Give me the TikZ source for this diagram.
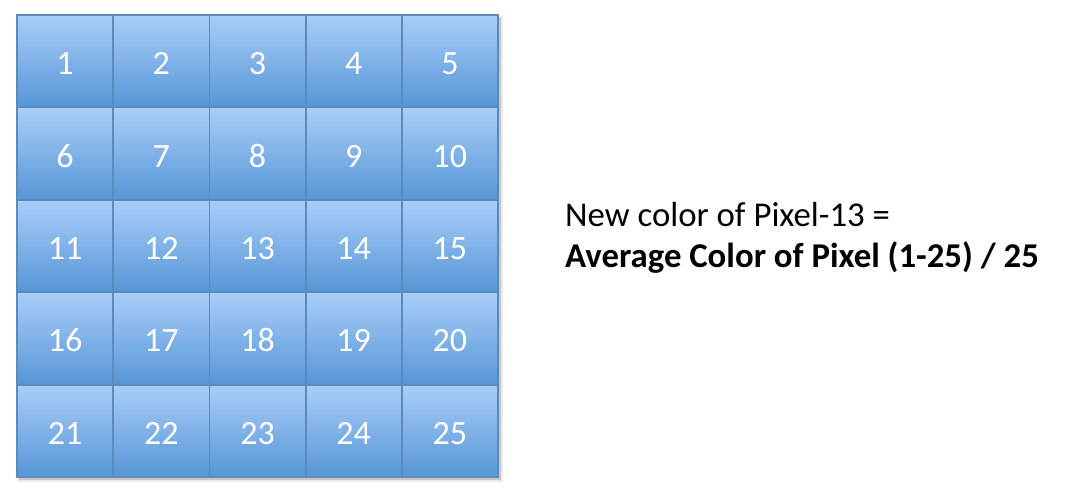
\documentclass[tikz,border=0pt]{standalone}
\usepackage{fontspec}
\setmainfont{Carlito}
\definecolor{celltop}{RGB}{170,205,249}
\definecolor{cellbot}{RGB}{86,150,215}
\definecolor{cellline}{RGB}{92,138,186}
\tikzset{
  cell/.style={draw=cellline, line width=1.8pt, top color=celltop, bottom color=cellbot,
    minimum width=96.2pt, minimum height=92.4pt, inner sep=0pt, outer sep=0pt,
    text=white, font=\fontsize{34}{40}\selectfont, text height=27pt, text depth=0pt},
  caption/.style={anchor=base west, inner sep=0pt, font=\fontsize{34.8}{41}\selectfont}
}
\begin{document}
\begin{tikzpicture}[x=1pt,y=-1pt]
\useasboundingbox[fill=white] (0,0) rectangle (1076,494);
\fill[black, opacity=0.15] (19,18) rectangle (501,480);
\fill[black, opacity=0.08] (18,16) rectangle (503,482);
\foreach \r in {0,...,4}{
  \foreach \c in {0,...,4}{
    \pgfmathtruncatemacro{\n}{\r*5+\c+1}
    \node[cell] (c\n) at ({17+96.2*(\c+0.5)},{15+92.4*(\r+0.5)}) {\n};
  }
}
\node[caption] (l1) at (565,227) {New color of Pixel-13 =};
\node[caption, font=\fontsize{34.8}{41}\selectfont\bfseries] (l2) at (565,268) {Average Color of Pixel (1-25) / 25};
\end{tikzpicture}
\end{document}
